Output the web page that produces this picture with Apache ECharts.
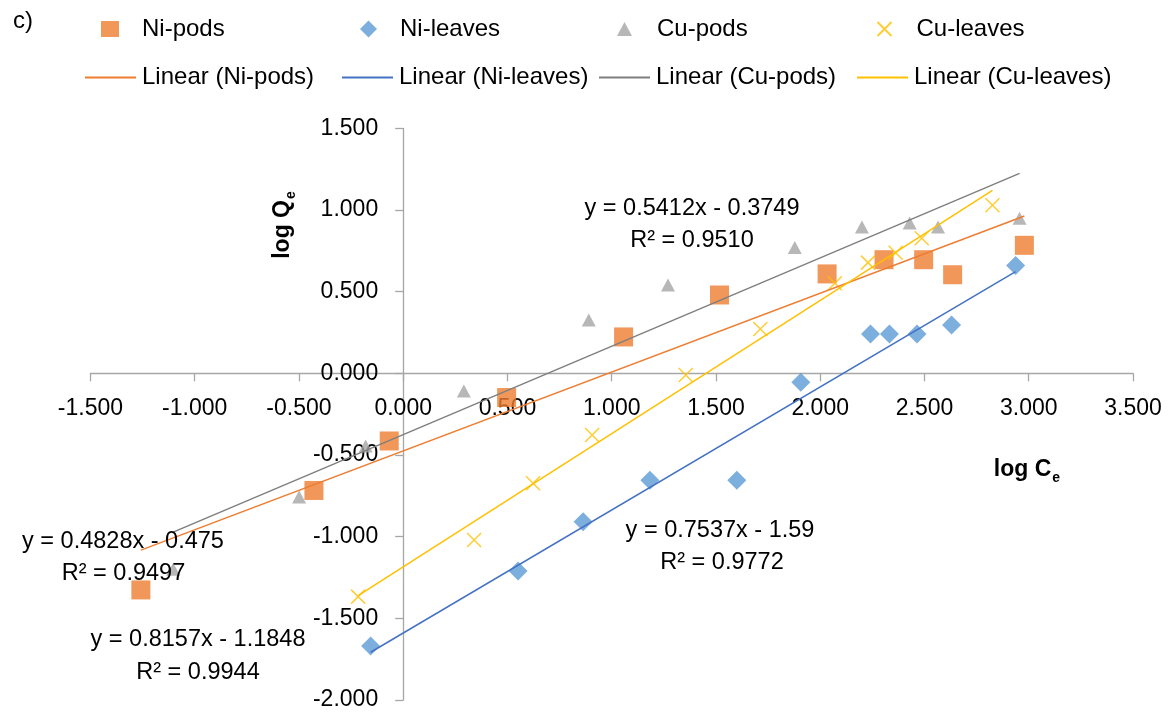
<!DOCTYPE html>
<html><head><meta charset="utf-8">
<script src="https://cdn.jsdelivr.net/npm/echarts@6/dist/echarts.min.js"></script>
<style>html,body{margin:0;padding:0;background:#fff}#c{width:1173px;height:713px}</style>
</head><body><div id="c"></div>
<script>
// ---- data ----
const niPodsX   = [-1.258, -0.428, -0.067, 0.496, 1.057, 1.517, 2.033, 2.306, 2.496, 2.635, 2.979];
const niPodsY   = [-1.326, -0.717, -0.414, -0.148, 0.223, 0.480, 0.609, 0.696, 0.696, 0.604, 0.784];
const niLeavesX = [-0.156, 0.551, 0.863, 1.183, 1.600, 1.907, 2.241, 2.332, 2.464, 2.630, 2.937];
const niLeavesY = [-1.669, -1.210, -0.908, -0.654, -0.654, -0.055, 0.241, 0.241, 0.241, 0.296, 0.660];
const cuPodsX   = [-1.103, -0.499, -0.180, 0.291, 0.890, 1.270, 1.878, 2.200, 2.429, 2.565, 2.956];
const cuPodsY   = [-1.200, -0.757, -0.445, -0.108, 0.327, 0.541, 0.771, 0.897, 0.921, 0.897, 0.950];
const cuLeavesX = [-0.216, 0.340, 0.623, 0.906, 1.355, 1.713, 2.070, 2.229, 2.362, 2.487, 2.826];
const cuLeavesY = [-1.367, -1.020, -0.673, -0.377, -0.010, 0.272, 0.552, 0.678, 0.739, 0.827, 1.029];

const seriesNames = ['Ni-pods', 'Ni-leaves', 'Cu-pods', 'Cu-leaves'];
const trendSlope     = [0.4828, 0.7537, 0.5412, 0.8157];
const trendIntercept = [-0.475, -1.59, -0.3749, -1.1848];
const trendR2        = ['0.9497', '0.9772', '0.9510', '0.9944'];

const xMin = -1.5, xMax = 3.5, yMin = -2.0, yMax = 1.5, tickStep = 0.5;

// ---- layout / styles ----
const W = 1173, H = 713;
const G = { left: 90.4, right: 40, top: 128.4, bottom: 13 };
const plotW = W - G.left - G.right, plotH = H - G.top - G.bottom;
// axes cross at the origin: shift each axis from its grid edge to the zero line
const xAxisOffset = -plotH * (0 - yMin) / (yMax - yMin);
const yAxisOffset = -plotW * (0 - xMin) / (xMax - xMin);

const FONT = '"Liberation Sans", Arial, sans-serif';
const markerColors = ['#ED7D31', '#5B9BD5', '#A5A5A5', '#FFC000'];
const lineColors   = ['#ED7D31', '#4472C4', '#7F7F7F', '#FFC000'];
const xPath = 'path://M0,0L10,10M10,0L0,10';

const xs = [niPodsX, niLeavesX, cuPodsX, cuLeavesX];
const ys = [niPodsY, niLeavesY, cuPodsY, cuLeavesY];
const zip = (a, b) => a.map((v, i) => [v, b[i]]);

const markerStyles = [
  { symbol: 'rect', symbolSize: 19, itemStyle: { color: markerColors[0] } },
  { symbol: 'diamond', symbolSize: 19, itemStyle: { color: markerColors[1] } },
  { symbol: 'triangle', symbolSize: [14, 13], itemStyle: { color: markerColors[2] } },
  { symbol: xPath, symbolSize: 14, symbolKeepAspect: true,
    itemStyle: { color: 'none', borderColor: markerColors[3], borderWidth: 1.5 } }
];

const series = [];
seriesNames.forEach((n, i) => {
  series.push(Object.assign({
    name: n, type: 'scatter', z: 2, data: zip(xs[i], ys[i])
  }, markerStyles[i]));
});
seriesNames.forEach((n, i) => {
  const lo = Math.min(...xs[i]), hi = Math.max(...xs[i]);
  series.push({
    name: 'Linear (' + n + ')', type: 'line', z: 3, symbol: 'none', showSymbol: false, silent: true,
    lineStyle: { color: lineColors[i], width: 1.5 }, itemStyle: { color: lineColors[i] },
    data: [[lo, trendSlope[i] * lo + trendIntercept[i]], [hi, trendSlope[i] * hi + trendIntercept[i]]]
  });
});

// ---- legend: one component per entry (Excel-like fixed columns) ----
const legendRow1 = [
  { left: 101, w: 18, h: 16, pad: 18 },
  { left: 360, w: 17, h: 17, pad: 18 },
  { left: 617, w: 15, h: 14, pad: 20 },
  { left: 875, w: 14, h: 14, pad: 20 }
];
const legendRow2 = [85, 342, 599, 857];
const legends = [];
seriesNames.forEach((n, i) => {
  const r = legendRow1[i];
  legends.push({ left: r.left, top: 17, itemWidth: r.w, itemHeight: r.h, padding: 0, itemGap: 0,
    selectedMode: false, data: [n],
    textStyle: { fontSize: 24, fontFamily: FONT, color: '#000', padding: [0, 0, 0, r.pad] } });
  legends.push({ left: legendRow2[i], top: 65.5, itemWidth: 51, itemHeight: 2, padding: 0, itemGap: 0,
    selectedMode: false, data: [{ name: 'Linear (' + n + ')', icon: 'rect' }],
    itemStyle: { color: lineColors[i] },
    textStyle: { fontSize: 24, fontFamily: FONT, color: '#000', padding: [0, 0, 0, 1] } });
});

// ---- equation annotations ----
const eqPos = [ [123, 542, 123.5, 574], [720, 531, 722, 563], [692, 209, 692, 241], [198, 640, 198, 673] ];
const fmtEq = i => 'y = ' + trendSlope[i].toFixed(4).replace(/0+$/, '') + 'x - ' +
  Math.abs(trendIntercept[i]).toString();
const graphics = [];
seriesNames.forEach((n, i) => {
  const p = eqPos[i];
  graphics.push({ type: 'text', x: p[0], y: p[1], z: 10,
    style: { text: fmtEq(i), fontSize: 23.5, fontFamily: FONT, fill: '#000', align: 'center', verticalAlign: 'middle' } });
  graphics.push({ type: 'text', x: p[2], y: p[3], z: 10,
    style: { text: 'R² = ' + trendR2[i], fontSize: 23.5, fontFamily: FONT, fill: '#000', align: 'center', verticalAlign: 'middle' } });
});
graphics.push({ type: 'text', x: 23, y: 21,
  style: { text: 'c)', fontSize: 24, fontFamily: FONT, fill: '#000', align: 'center', verticalAlign: 'middle' } });
const subRich = {
  m: { fontSize: 23, fontWeight: 'bold', fontFamily: FONT, fill: '#000', lineHeight: 28, verticalAlign: 'bottom' },
  s: { fontSize: 14, fontWeight: 'bold', fontFamily: FONT, fill: '#000', lineHeight: 28, verticalAlign: 'bottom', padding: [0, 0, -4, 1] }
};
graphics.push({ type: 'text', x: 280, y: 225, rotation: Math.PI / 2,
  style: { text: '{m|log Q}{s|e}', rich: subRich, align: 'center', verticalAlign: 'middle' } });
graphics.push({ type: 'text', x: 1027, y: 467,
  style: { text: '{m|log C}{s|e}', rich: subRich, align: 'center', verticalAlign: 'middle' } });

const axisCommon = {
  type: 'value', interval: tickStep,
  splitLine: { show: false },
  axisLine: { show: true, onZero: false, lineStyle: { color: '#A6A6A6', width: 1.3 } },
  axisTick: { show: true, inside: false, length: 8, lineStyle: { color: '#A6A6A6', width: 1.3 } },
  axisLabel: { fontSize: 23, fontFamily: FONT, color: '#000', formatter: v => v.toFixed(3) }
};

const option = {
  animation: false,
  backgroundColor: '#fff',
  grid: Object.assign({ containLabel: false, outerBoundsMode: 'none' }, G),
  xAxis: Object.assign({}, axisCommon, { min: xMin, max: xMax, position: 'bottom', offset: xAxisOffset,
    axisLabel: Object.assign({}, axisCommon.axisLabel, { margin: 24 }) }),
  yAxis: Object.assign({}, axisCommon, { min: yMin, max: yMax, position: 'left', offset: yAxisOffset,
    axisLabel: Object.assign({}, axisCommon.axisLabel, { margin: 25 }) }),
  legend: legends,
  series: series,
  graphic: graphics
};
const chart = echarts.init(document.getElementById('c'));
chart.setOption(option);
</script>
</body></html>
